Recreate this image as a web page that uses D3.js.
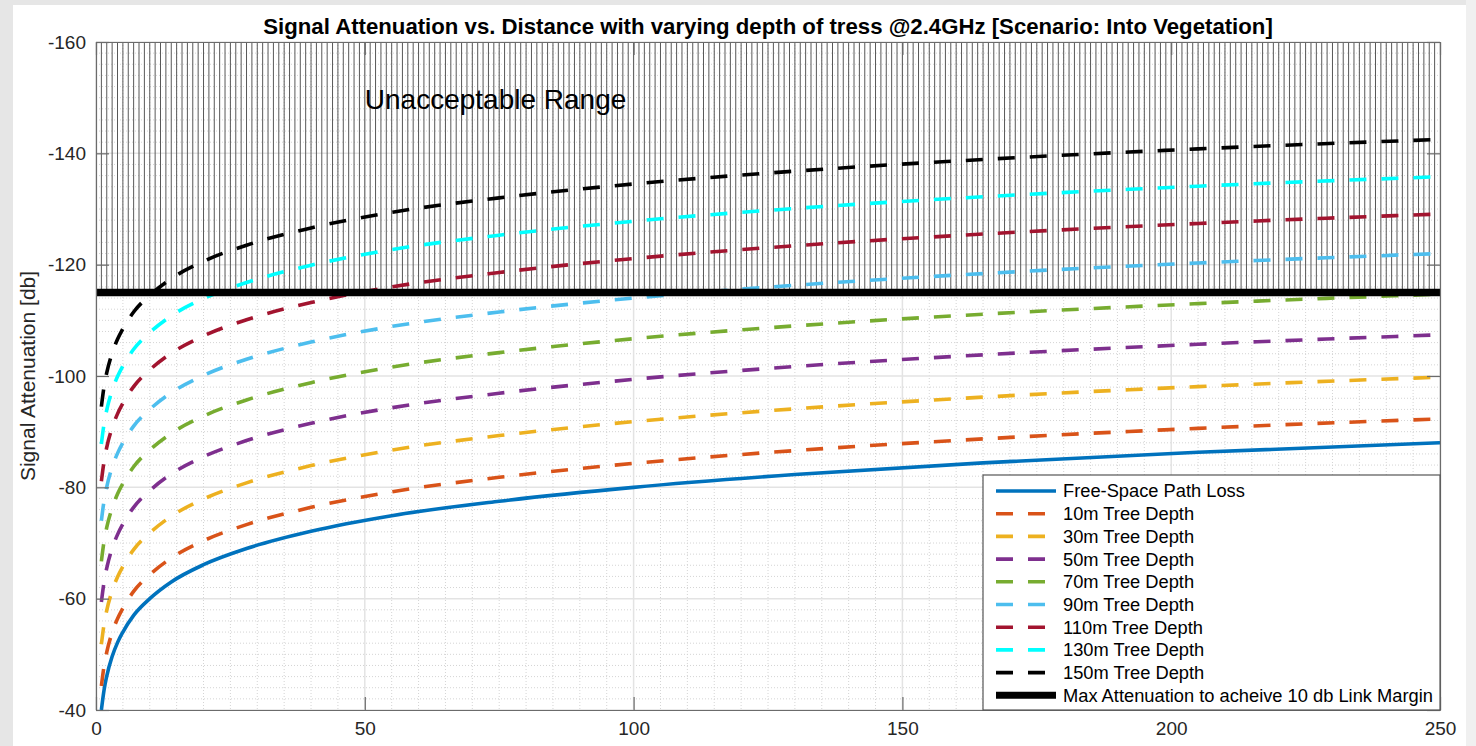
<!DOCTYPE html>
<html>
<head>
<meta charset="utf-8">
<script src="https://cdn.jsdelivr.net/npm/d3@7"></script>
<style>
  html, body { margin: 0; padding: 0; background: #e6e6e6; }
  svg { display: block; font-family: Arial, "Liberation Sans", Helvetica, sans-serif; }
</style>
</head>
<body>
<svg id="chart" width="1476" height="746"></svg>
<script>
// Distance samples [m]
const distances = [1, 1.5, 2, 3, 4, 5, 7, 10, 14, 20, 28, 40, 55, 75, 100, 130, 165, 205, 250];

// Attenuation [db]
const freeSpace = [-40.0, -43.6, -46.1, -49.6, -52.1, -54.0, -57.0, -60.0, -63.0, -66.1, -69.0, -72.1, -74.9, -77.5, -80.0, -82.3, -84.4, -86.3, -88.0];
const depth10  = [-44.3, -47.9, -50.4, -53.9, -56.4, -58.3, -61.3, -64.3, -67.3, -70.4, -73.3, -76.4, -79.2, -81.8, -84.3, -86.6, -88.7, -90.6, -92.3];
const depth30  = [-51.8, -55.4, -57.9, -61.4, -63.9, -65.8, -68.8, -71.8, -74.8, -77.9, -80.8, -83.9, -86.7, -89.3, -91.8, -94.1, -96.2, -98.1, -99.8];
const depth50  = [-59.4, -63.0, -65.5, -69.0, -71.5, -73.4, -76.4, -79.4, -82.4, -85.5, -88.4, -91.5, -94.3, -96.9, -99.4, -101.7, -103.8, -105.7, -107.4];
const depth70  = [-66.7, -70.3, -72.8, -76.3, -78.8, -80.7, -83.7, -86.7, -89.7, -92.8, -95.7, -98.8, -101.6, -104.2, -106.7, -109.0, -111.1, -113.0, -114.7];
const depth90  = [-74.0, -77.6, -80.1, -83.6, -86.1, -88.0, -91.0, -94.0, -97.0, -100.1, -103.0, -106.1, -108.9, -111.5, -114.0, -116.3, -118.4, -120.3, -122.0];
const depth110 = [-81.1, -84.7, -87.2, -90.7, -93.2, -95.1, -98.1, -101.1, -104.1, -107.2, -110.1, -113.2, -116.0, -118.6, -121.1, -123.4, -125.5, -127.4, -129.1];
const depth130 = [-87.8, -91.4, -93.9, -97.4, -99.9, -101.8, -104.8, -107.8, -110.8, -113.9, -116.8, -119.9, -122.7, -125.3, -127.8, -130.1, -132.2, -134.1, -135.8];
const depth150 = [-94.5, -98.1, -100.6, -104.1, -106.6, -108.5, -111.5, -114.5, -117.5, -120.6, -123.5, -126.6, -129.4, -132.0, -134.5, -136.8, -138.9, -140.8, -142.5];

// Max attenuation for a 10 db link margin
const linkMarginLimit = -115;

const seriesNames = [
  'Free-Space Path Loss', '10m Tree Depth', '30m Tree Depth', '50m Tree Depth', '70m Tree Depth',
  '90m Tree Depth', '110m Tree Depth', '130m Tree Depth', '150m Tree Depth'
];
const seriesValues = [freeSpace, depth10, depth30, depth50, depth70, depth90, depth110, depth130, depth150];
const seriesColors = ['#0072bd', '#d95319', '#edb120', '#7e2f8e', '#77ac30', '#4dbeee', '#a2142f', '#00ffff', '#000000'];
const limitName = 'Max Attenuation to acheive 10 db Link Margin';

const xTicks = [0, 50, 100, 150, 200, 250];
const yTicks = [-160, -140, -120, -100, -80, -60, -40];

const svg = d3.select('#chart');

// Figure panel
svg.append('rect').attr('x', 1466).attr('y', 0).attr('width', 10).attr('height', 746).attr('fill', '#f0f0f0');
svg.append('rect').attr('x', 13).attr('y', 5).attr('width', 1453).attr('height', 741).attr('fill', '#ffffff');

const x = d3.scaleLinear().domain([0, 250]).range([96, 1440]);
const y = d3.scaleLinear().domain([-160, -40]).range([42, 710]);

svg.append('defs').append('clipPath').attr('id', 'plot-clip')
  .append('rect')
  .attr('x', x(0)).attr('y', y(-160))
  .attr('width', x(250) - x(0)).attr('height', y(-40) - y(-160));

const grid = svg.append('g').attr('class', 'grid');

// Minor grid (dotted)
grid.selectAll('.minor-x')
  .data(d3.range(0, 251, 5).filter(d => d % 50 !== 0))
  .join('line')
  .attr('x1', d => x(d)).attr('x2', d => x(d))
  .attr('y1', y(-160)).attr('y2', y(-40))
  .attr('stroke', '#d4d4d4').attr('stroke-width', 1).attr('stroke-dasharray', '1,2');

grid.selectAll('.minor-y')
  .data(d3.range(-160, -39, 2).filter(d => d % 20 !== 0))
  .join('line')
  .attr('x1', x(0)).attr('x2', x(250))
  .attr('y1', d => y(d)).attr('y2', d => y(d))
  .attr('stroke', '#d4d4d4').attr('stroke-width', 1).attr('stroke-dasharray', '1,2');

// Major grid
grid.selectAll('.major-x')
  .data(xTicks)
  .join('line')
  .attr('x1', d => x(d)).attr('x2', d => x(d))
  .attr('y1', y(-160)).attr('y2', y(-40))
  .attr('stroke', '#e3e3e3').attr('stroke-width', 1.5);

grid.selectAll('.major-y')
  .data(yTicks)
  .join('line')
  .attr('x1', x(0)).attr('x2', x(250))
  .attr('y1', d => y(d)).attr('y2', d => y(d))
  .attr('stroke', '#e3e3e3').attr('stroke-width', 1.5);

// Hatched "unacceptable" zone above the limit
svg.append('g').attr('class', 'hatch')
  .selectAll('line')
  .data(d3.range(1, 250, 1))
  .join('line')
  .attr('x1', d => x(d)).attr('x2', d => x(d))
  .attr('y1', y(-160)).attr('y2', y(linkMarginLimit))
  .attr('stroke', '#585858').attr('stroke-width', 1);

svg.append('text')
  .attr('x', x(50)).attr('y', y(-148))
  .attr('font-size', 28)
  .attr('fill', '#000')
  .text('Unacceptable Range');

// Curves
const line = d3.line()
  .x((d, i) => x(distances[i]))
  .y(d => y(d))
  .curve(d3.curveMonotoneX);

const curves = svg.append('g').attr('clip-path', 'url(#plot-clip)');

seriesValues.forEach((values, i) => {
  curves.append('path')
    .datum(values)
    .attr('d', line)
    .attr('fill', 'none')
    .attr('stroke', seriesColors[i])
    .attr('stroke-width', 3.6)
    .attr('stroke-dasharray', i === 0 ? null : '17,15');
});

// Limit line
curves.append('line')
  .attr('x1', x(0)).attr('x2', x(250))
  .attr('y1', y(linkMarginLimit)).attr('y2', y(linkMarginLimit))
  .attr('stroke', '#000').attr('stroke-width', 7.5);

// Axes (ticks pointing inward, box on)
const tickColor = '#262626';
const plain = d => String(d);

const xAxis = svg.append('g')
  .attr('transform', `translate(0,${y(-40)})`)
  .call(d3.axisBottom(x).tickValues(xTicks).tickFormat(plain).tickSizeInner(-13).tickSizeOuter(0).tickPadding(12));

const yAxis = svg.append('g')
  .attr('transform', `translate(${x(0)},0)`)
  .call(d3.axisLeft(y).tickValues(yTicks).tickFormat(plain).tickSizeInner(-13).tickSizeOuter(0).tickPadding(10));

const topAxis = svg.append('g')
  .attr('transform', `translate(0,${y(-160)})`)
  .call(d3.axisTop(x).tickValues(xTicks).tickSizeInner(-13).tickSizeOuter(0).tickFormat(''));

const rightAxis = svg.append('g')
  .attr('transform', `translate(${x(250)},0)`)
  .call(d3.axisRight(y).tickValues(yTicks).tickSizeInner(-13).tickSizeOuter(0).tickFormat(''));

[xAxis, yAxis, topAxis, rightAxis].forEach(g => {
  g.select('.domain').attr('stroke', '#6b6b6b').attr('stroke-width', 1.2);
  g.selectAll('.tick line').attr('stroke', '#6b6b6b').attr('stroke-width', 1.2);
  g.selectAll('.tick text')
    .attr('fill', tickColor)
    .attr('font-size', 19)
    .attr('font-family', 'Arial, "Liberation Sans", Helvetica, sans-serif');
});

// Title and axis label
svg.append('text')
  .attr('x', (x(0) + x(250)) / 2).attr('y', 34)
  .attr('text-anchor', 'middle')
  .attr('font-size', 22.2)
  .attr('font-weight', 'bold')
  .attr('fill', '#000')
  .text('Signal Attenuation vs. Distance with varying depth of tress @2.4GHz [Scenario: Into Vegetation]');

svg.append('text')
  .attr('transform', `translate(35,${(y(-160) + y(-40)) / 2}) rotate(-90)`)
  .attr('text-anchor', 'middle')
  .attr('font-size', 21)
  .attr('fill', tickColor)
  .text('Signal Attenuation [db]');

// Legend
const legend = svg.append('g').attr('transform', 'translate(983,475)');

legend.append('rect')
  .attr('width', 457).attr('height', 235)
  .attr('fill', '#fff')
  .attr('stroke', '#555').attr('stroke-width', 1.2);

const legendItems = seriesNames.map((name, i) => ({ name, color: seriesColors[i], dash: i !== 0, width: 3.6 }))
  .concat([{ name: limitName, color: '#000', dash: false, width: 7 }]);

const rows = legend.selectAll('.legend-row')
  .data(legendItems)
  .join('g')
  .attr('class', 'legend-row')
  .attr('transform', (d, i) => `translate(0,${16 + i * 22.7})`);

rows.append('line')
  .attr('x1', 13).attr('x2', 73)
  .attr('stroke', d => d.color)
  .attr('stroke-width', d => d.width)
  .attr('stroke-dasharray', d => d.dash ? '17,15' : null);

rows.append('text')
  .attr('x', 80).attr('dy', '0.35em')
  .attr('font-size', 18.3)
  .attr('fill', '#000')
  .text(d => d.name);
</script>
</body>
</html>
